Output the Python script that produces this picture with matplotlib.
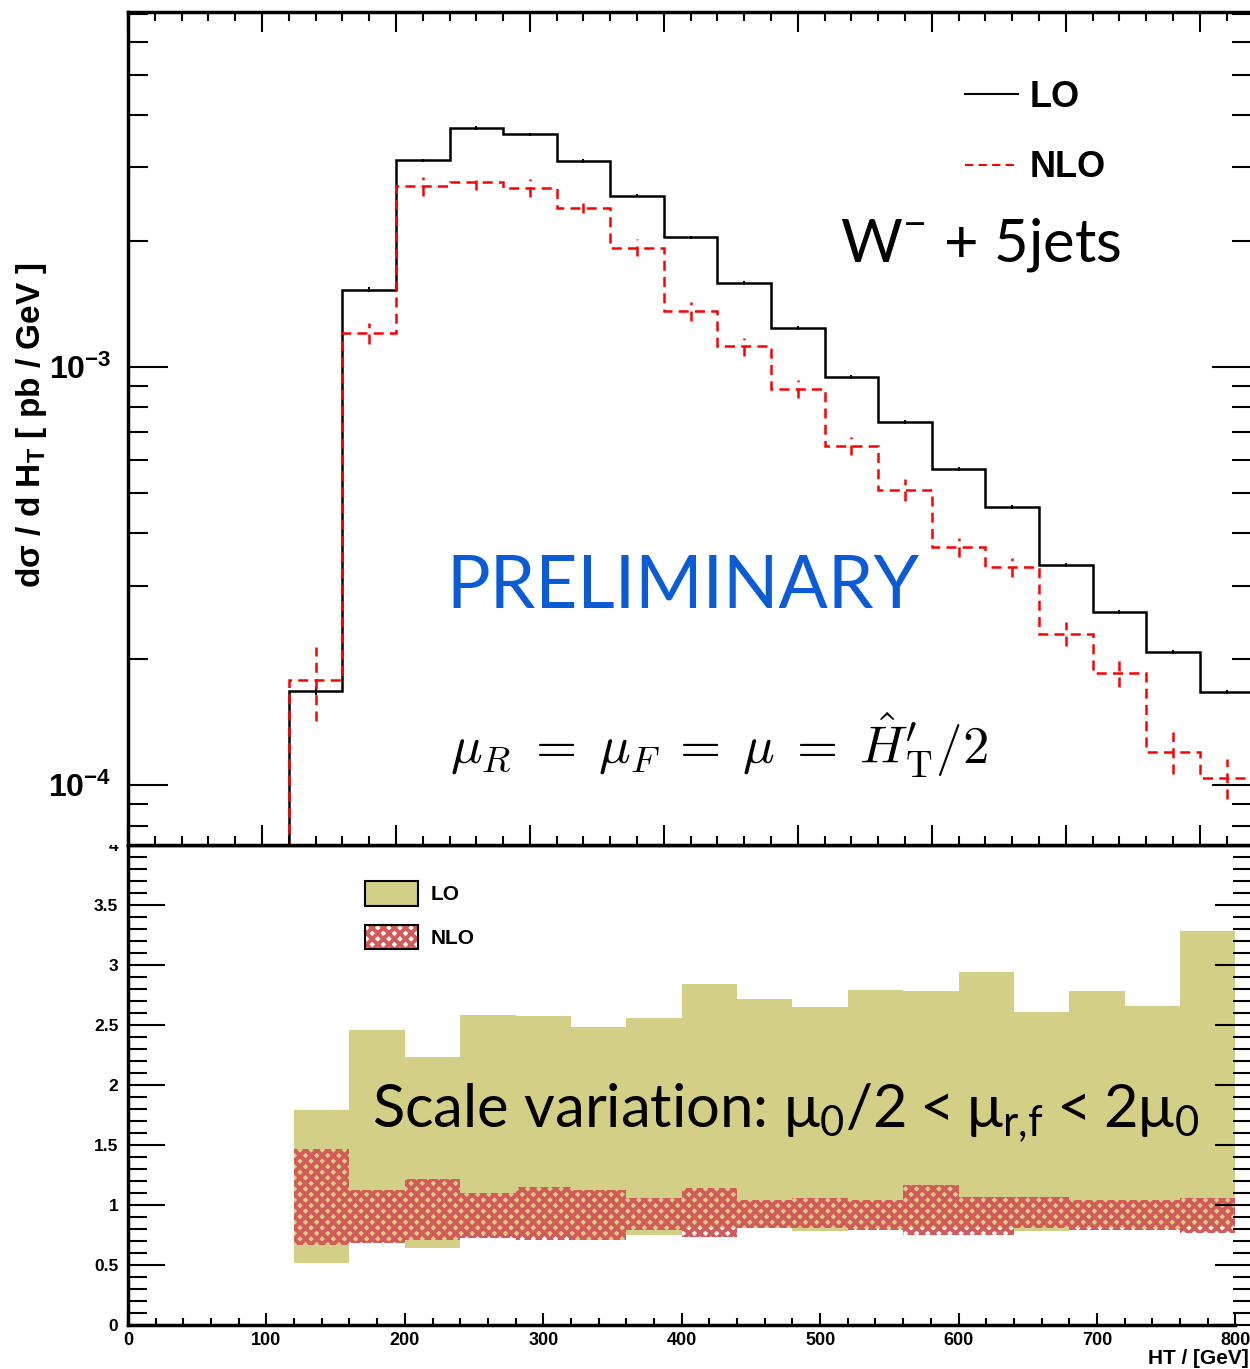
import numpy as np
import matplotlib
matplotlib.use('Agg')
import matplotlib.pyplot as plt
from matplotlib.lines import Line2D
from matplotlib.patches import Patch, Rectangle
from matplotlib.legend_handler import HandlerTuple
from matplotlib.ticker import LogLocator, NullFormatter, MultipleLocator

plt.rcParams['font.family'] = ['Liberation Sans', 'DejaVu Sans']
plt.rcParams['font.weight'] = 'bold'
plt.rcParams['mathtext.fontset'] = 'custom'
plt.rcParams['mathtext.rm'] = 'Lato:weight=normal'
plt.rcParams['mathtext.bf'] = 'Liberation Sans:bold'
plt.rcParams['hatch.linewidth'] = 2.8

# HT bin edges (GeV)
top_edges = [120, 160, 200, 240, 280, 320, 360, 400, 440, 480, 520,
             560, 600, 640, 680, 720, 760, 800, 840]
ratio_edges = top_edges[:-1]

# d sigma / d HT  [pb/GeV]
lo_xsec = [1.68e-4, 1.53e-3, 3.12e-3, 3.72e-3, 3.60e-3, 3.11e-3, 2.57e-3,
           2.04e-3, 1.59e-3, 1.24e-3, 9.46e-4, 7.38e-4, 5.70e-4, 4.62e-4,
           3.36e-4, 2.59e-4, 2.08e-4, 1.67e-4]
lo_err = [4e-6, 2e-5, 3e-5, 4e-5, 3e-5, 3e-5, 2.5e-5, 2e-5, 1.5e-5, 1.2e-5,
          9e-6, 7e-6, 5e-6, 4.5e-6, 3.5e-6, 2.5e-6, 2e-6, 1.7e-6]
nlo_xsec = [1.78e-4, 1.205e-3, 2.71e-3, 2.77e-3, 2.68e-3, 2.40e-3, 1.93e-3,
            1.36e-3, 1.12e-3, 8.86e-4, 6.47e-4, 5.08e-4, 3.71e-4, 3.32e-4,
            2.30e-4, 1.85e-4, 1.20e-4, 1.04e-4]
nlo_err = [3.6e-5, 7e-5, 1.4e-4, 1.25e-4, 1.35e-4, 7e-5, 9e-5, 7e-5, 5.5e-5,
           4.5e-5, 3.2e-5, 3e-5, 1.9e-5, 1.7e-5, 1.5e-5, 1.3e-5, 1.4e-5, 1.15e-5]

# scale variation bands (ratio)
lo_band_hi = [1.79, 2.46, 2.23, 2.58, 2.575, 2.48, 2.56, 2.84, 2.72, 2.65,
              2.79, 2.78, 2.94, 2.61, 2.78, 2.66, 3.28]
lo_band_lo = [0.52, 0.69, 0.64, 0.75, 0.75, 0.71, 0.75, 0.81, 0.81, 0.78,
              0.80, 0.81, 0.81, 0.78, 0.81, 0.80, 0.82]
nlo_band_hi = [1.47, 1.125, 1.22, 1.10, 1.15, 1.125, 1.06, 1.14, 1.04, 1.06,
               1.04, 1.17, 1.07, 1.07, 1.04, 1.04, 1.06]
nlo_band_lo = [0.67, 0.685, 0.71, 0.725, 0.71, 0.71, 0.79, 0.73, 0.81, 0.81,
               0.79, 0.75, 0.75, 0.81, 0.79, 0.79, 0.77]

ratio_yticks = [0, 0.5, 1, 1.5, 2, 2.5, 3, 3.5, 4]
ratio_ylabels = ['0', '0.5', '1', '1.5', '2', '2.5', '3', '3.5', '4']
ht_ticks = [0, 100, 200, 300, 400, 500, 600, 700, 800]

khaki = '#d3cf87'
nlo_red = '#d45a5a'
dash = (0, (4, 2.5))

fig = plt.figure(figsize=(12.5, 13.69), dpi=100)
L, W = 128 / 1250, 1124 / 1250
ax2 = fig.add_axes([L, 1 - 1325 / 1369, W, 480 / 1369], zorder=0)
ax1 = fig.add_axes([L, 1 - 845 / 1369, W, 833 / 1369], zorder=2)
# white cover so the "4" label hides under the upper pad
fig.add_artist(Rectangle((0, 1 - 845 / 1369), L, 0.03, transform=fig.transFigure,
                         facecolor='white', edgecolor='none', zorder=1))

# ---- upper panel
centers = [(a + b) / 2 for a, b in zip(top_edges[:-1], top_edges[1:])]
ax1.stairs(lo_xsec, top_edges, baseline=1e-6, color='black', lw=1.8)
ax1.errorbar(centers, lo_xsec, yerr=lo_err, fmt='none', ecolor='black', elinewidth=1.5)
ax1.stairs(nlo_xsec, top_edges, baseline=1e-6, color='red', lw=1.8, linestyle=dash)
eb = ax1.errorbar(centers, nlo_xsec, yerr=nlo_err, fmt='none', ecolor='red', elinewidth=1.8)
eb[2][0].set_linestyle(dash)

ax1.set_yscale('log')
ax1.set_xlim(0, 839)
ax1.set_ylim(10 ** -4.1435, 10 ** -2.151)
ax1.set_yticks([1e-4, 1e-3])
ax1.set_yticklabels([r'$\mathbf{10^{-4}}$', r'$\mathbf{10^{-3}}$'])
ax1.yaxis.set_minor_locator(LogLocator(base=10, subs=range(2, 10)))
ax1.yaxis.set_minor_formatter(NullFormatter())
ax1.set_xticks(ht_ticks)
ax1.xaxis.set_minor_locator(MultipleLocator(20))
ax1.tick_params(axis='y', which='major', direction='in', length=29, width=1.5,
                right=True, labelsize=23, pad=12)
ax1.tick_params(axis='y', which='minor', direction='in', length=14.5, width=1.5, right=True)
ax1.tick_params(axis='x', which='major', direction='in', length=14.5, width=1.5,
                top=True, labelbottom=False)
ax1.tick_params(axis='x', which='minor', direction='in', length=6.5, width=1.5, top=True)
for s in ax1.spines.values():
    s.set_linewidth(2.5)

ax1.legend([Line2D([], [], color='black', lw=1.5),
            Line2D([], [], color='red', lw=1.5, linestyle=dash)],
           ['LO', 'NLO'], loc='upper left',
           bbox_to_anchor=((965 - 128) / 1124, (845 - 80) / 833),
           frameon=False, fontsize=26, handlelength=1.47, handletextpad=0.33,
           labelspacing=0.98, borderpad=0, borderaxespad=0)

ax1.text((840 - 128) / 1124, (845 - 245) / 833, r'W$^{-}$ + 5jets', family='Lato',
         fontweight='normal', fontsize=43, ha='left', va='center', transform=ax1.transAxes)
ax1.text((683 - 128) / 1124, (845 - 588) / 833, 'PRELIMINARY', family='Lato',
         fontweight='normal', fontsize=52.5, color='#0b5bd6', ha='center', va='center',
         transform=ax1.transAxes)
ax1.text((719 - 128) / 1124, (845 - 745) / 833,
         r'$\mu_R \;=\; \mu_F \;=\; \mu \;=\; \hat{H}^{\prime}_{\mathrm{T}}/2$',
         math_fontfamily='cm', fontweight='normal', fontsize=38, ha='center',
         va='center', transform=ax1.transAxes)

# ---- ratio panel
ax2.stairs(lo_band_hi, ratio_edges, baseline=lo_band_lo, fill=True,
           facecolor=khaki, edgecolor='none')
ax2.stairs(nlo_band_hi, ratio_edges, baseline=nlo_band_lo, fill=True,
           facecolor='none', edgecolor=nlo_red, hatch='xxx', linewidth=0)
ax2.set_xlim(0, 812)
ax2.set_ylim(0, 4)
ax2.set_yticks(ratio_yticks)
ax2.set_yticklabels(ratio_ylabels)
ax2.yaxis.set_minor_locator(MultipleLocator(0.1))
ax2.set_xticks(ht_ticks)
ax2.xaxis.set_minor_locator(MultipleLocator(20))
ax2.tick_params(axis='y', which='major', direction='in', length=26.5, width=1.5,
                right=True, labelsize=12.5, pad=7)
ax2.tick_params(axis='y', which='minor', direction='in', length=13.5, width=1.5, right=True)
ax2.tick_params(axis='x', which='major', direction='in', length=8.5, width=1.5,
                labelsize=13, pad=5)
ax2.tick_params(axis='x', which='minor', direction='in', length=5, width=1.5)
for s in ax2.spines.values():
    s.set_linewidth(2.5)
ax2.spines['bottom'].set_bounds(0, 800)

lo_h = Patch(facecolor=khaki, edgecolor='black', lw=1.5)
nlo_h = (Patch(facecolor='none', edgecolor=nlo_red, hatch='xxx', lw=0),
         Patch(facecolor='none', edgecolor='black', lw=1.5))
ax2.legend([lo_h, nlo_h], ['LO', 'NLO'], handler_map={tuple: HandlerTuple(ndivide=1, pad=0)},
           loc='upper left', bbox_to_anchor=((365 - 128) / 1124, (1325 - 881) / 480),
           frameon=False, fontsize=15, handlelength=2.55, handleheight=1.44,
           handletextpad=0.58, labelspacing=0.92, borderpad=0, borderaxespad=0)

ax2.text((372 - 128) / 1124, (1325 - 1113) / 480,
         r'Scale variation: $\mathrm{\mu_0/2 < \mu_{r{,}f} < 2\mu_0}$', family='Lato',
         fontweight='normal', fontsize=43, ha='left', va='center', transform=ax2.transAxes)

fig.text(32 / 1250, 1 - 425 / 1369, r'dσ / d H$_{\mathbf{T}}$ [ pb / GeV ]',
         rotation=90, ha='center', va='center', fontsize=24)
fig.text(1249 / 1250, 1 - 1358 / 1369, 'HT / [GeV]', ha='right', va='center', fontsize=15)

fig.savefig('out.png', dpi=100)
